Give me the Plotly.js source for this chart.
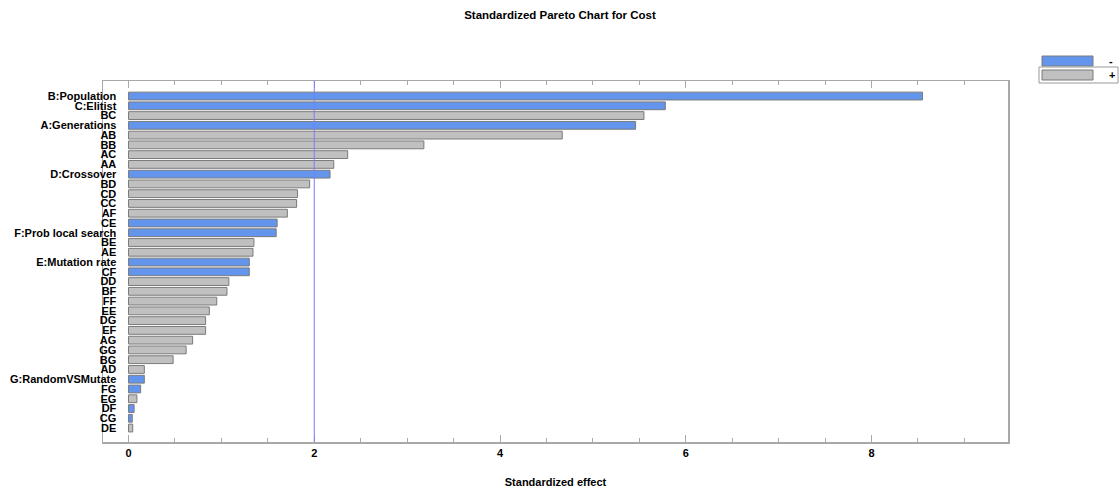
<!DOCTYPE html>
<html>
<head>
<meta charset="utf-8">
<script src="https://cdn.plot.ly/plotly-3.0.1.min.js"></script>
<style>html,body{margin:0;padding:0;background:#fff;}#chart{width:1120px;height:488px;}</style>
</head>
<body>
<div id="chart"></div>
<script>
// ---- data ----
const effects = ["B:Population","C:Elitist","BC","A:Generations","AB","BB","AC","AA","D:Crossover","BD","CD","CC","AF","CE","F:Prob local search","BE","AE","E:Mutation rate","CF","DD","BF","FF","EE","DG","EF","AG","GG","BG","AD","G:RandomVSMutate","FG","EG","DF","CG","DE"];
const standardizedEffect = [8.55,5.78,5.55,5.46,4.67,3.18,2.36,2.21,2.17,1.95,1.82,1.81,1.71,1.60,1.59,1.35,1.34,1.30,1.30,1.08,1.06,0.95,0.87,0.83,0.83,0.69,0.62,0.48,0.17,0.17,0.13,0.09,0.06,0.04,0.045];
const signs = ["-","-","+","-","+","+","+","+","-","+","+","+","+","-","-","+","+","-","-","+","+","+","+","+","+","+","+","+","+","-","-","+","-","-","+"];
const criticalValue = 2.0;
const xTicks = [0,2,4,6,8];
const legendLabels = ["-","+"];

// ---- style ----
const signColors = {"-":"#6495ED","+":"#C0C0C0"};
const frameColor = "#a8a8a8";
const boldFont = "Liberation Sans, Arial, sans-serif";
const narrowFont = "Liberation Sans Narrow, Arial Narrow, Liberation Sans, sans-serif";

const W = 1120, H = 488;
const M = {l:103, r:112, t:81, b:46};
const pw = W - M.l - M.r, ph = H - M.t - M.b;
const px = x => (x - M.l) / pw;
const py = y => (H - M.b - y) / ph;

const trace = {
  type: "bar",
  orientation: "h",
  y: effects.map((_, i) => i),
  x: standardizedEffect,
  marker: {
    color: signs.map(s => signColors[s]),
    line: {color: "#7a7a7a", width: 1}
  },
  hoverinfo: "x+text",
  text: effects,
  textposition: "none",
  showlegend: false
};

const n = effects.length;
const layout = {
  width: W, height: H,
  margin: M,
  paper_bgcolor: "#fff", plot_bgcolor: "#fff",
  bargap: 0.2,
  showlegend: false,
  title: {
    text: "<b>Standardized Pareto Chart for Cost</b>",
    x: 0.5, xref: "container", y: 1 - 15/H, yref: "container", yanchor: "middle",
    font: {family: boldFont, size: 11.5, color: "#000"}
  },
  xaxis: {
    range: [-0.275, 9.47],
    tickvals: xTicks,
    ticktext: xTicks.map(v => "<b>" + v + "</b>"),
    ticks: "inside", ticklen: 7, tickcolor: frameColor, tickwidth: 1,
    minor: {dtick: 0.5, tick0: 0, ticks: "inside", ticklen: 4, tickcolor: frameColor, showgrid: false},
    showgrid: false, zeroline: false,
    showline: true, linecolor: frameColor, linewidth: 1.5, mirror: "allticks",
    tickfont: {family: narrowFont, size: 11, color: "#000"},
    title: {text: "<b>Standardized effect</b>", font: {family: narrowFont, size: 11, color: "#000"}, standoff: 26}
  },
  yaxis: {
    range: [n - 1 + 1.43, -1.54],
    tickvals: effects.map((_, i) => i),
    ticktext: effects.map(e => "<b>" + e + "</b>"),
    ticks: "", showgrid: false, zeroline: false,
    showline: true, linecolor: frameColor, linewidth: 1.5, mirror: true,
    tickfont: {family: boldFont, size: 11, color: "#000"},
    ticklabelstandoff: -17
  },
  shapes: [
    {type: "line", xref: "x", yref: "paper", x0: criticalValue, x1: criticalValue, y0: 0, y1: 1,
     line: {color: "#7b7bff", width: 1}},
    // legend boxes
    {type: "rect", xref: "paper", yref: "paper", x0: px(1042), x1: px(1093), y0: py(66), y1: py(56),
     fillcolor: signColors["-"], line: {color: "#7a7a7a", width: 1}},
    {type: "rect", xref: "paper", yref: "paper", x0: px(1039), x1: px(1118), y0: py(83), y1: py(67),
     fillcolor: "rgba(0,0,0,0)", line: {color: "#9a9a9a", width: 1}},
    {type: "rect", xref: "paper", yref: "paper", x0: px(1042), x1: px(1093), y0: py(80), y1: py(70),
     fillcolor: signColors["+"], line: {color: "#7a7a7a", width: 1}}
  ],
  annotations: [
    {xref: "paper", yref: "paper", x: px(1111), y: py(61), text: "<b>" + legendLabels[0] + "</b>", showarrow: false,
     xanchor: "center", yanchor: "middle", font: {family: boldFont, size: 11, color: "#000"}},
    {xref: "paper", yref: "paper", x: px(1112), y: py(75), text: "<b>" + legendLabels[1] + "</b>", showarrow: false,
     xanchor: "center", yanchor: "middle", font: {family: boldFont, size: 11, color: "#000"}}
  ]
};

Plotly.newPlot("chart", [trace], layout, {displayModeBar: false, staticPlot: true});
</script>
</body>
</html>
